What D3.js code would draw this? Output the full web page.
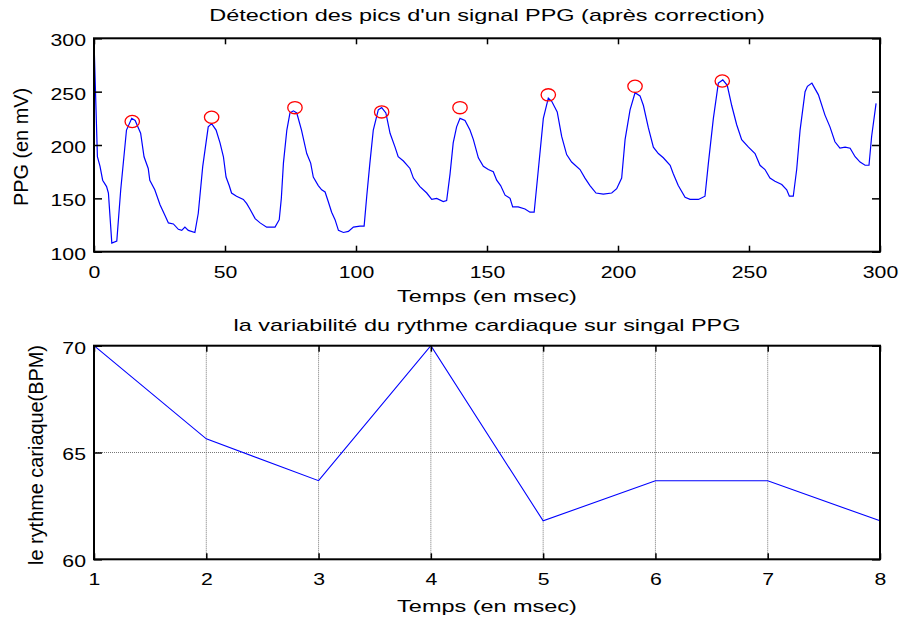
<!DOCTYPE html>
<html>
<head>
<meta charset="utf-8">
<script src="https://cdn.jsdelivr.net/npm/d3@7"></script>
<style>
  body { margin: 0; background: #fff; }
  text { font-family: "Liberation Sans", Arial, Helvetica, sans-serif; fill: #000; }
</style>
</head>
<body>
<svg id="chart" width="902" height="619"></svg>
<script>
// PPG signal after baseline correction (time in samples, amplitude in mV)
const ppgTime = [0, 1.3, 2.3, 3.3, 4.8, 5.5, 6.8, 8.7, 10.2, 12.4, 14.4, 15.7, 17.8, 19.1, 20.7, 21.3, 23.2, 25.2, 27.1, 28.4,
  30.3, 32.2, 33.5, 34.7, 36, 38.5, 39.8, 41.5, 43.6, 44.9, 46.6, 48.1, 49.4, 50.4, 51.6, 52.5, 54.4, 57, 58.3, 59.5,
  61.5, 63.4, 65.9, 69.1, 70.7, 71.5, 72.3, 73.6, 74.8, 76.1, 77.4, 79.2, 81.2, 82.7, 83.7, 85.6, 86.9, 88.2, 89.4, 90.7,
  92, 93.3, 95.2, 97.1, 99, 101.5, 103.1, 104.1, 105.3, 106.6, 108.5, 109.8, 111.4, 113, 114.9, 116.1, 118.1, 120.6, 121.9, 124.4,
  127, 128.9, 130.8, 133.3, 134.6, 135.9, 137.1, 138.4, 139.7, 141.6, 143.5, 144.8, 146.7, 148.6, 150.5, 152.4, 153.7, 155.2, 156.9, 158.8,
  159.8, 161.9, 164.5, 166.4, 168, 169.6, 171.5, 173.4, 174.7, 176.8, 178.5, 180.4, 182.3, 185.5, 187.4, 189.3, 191.6, 194.4, 197.6, 199.5,
  201.4, 202.7, 204.6, 206.5, 208.4, 209.7, 211.6, 213.5, 215.4, 217.3, 219.9, 221.1, 223, 225.6, 227.5, 230.7, 233.2, 234.5, 236.4, 238.3,
  240, 241.7, 243.4, 245.3, 247.2, 249.8, 252.3, 254.2, 256.1, 258, 259.9, 262.5, 264.4, 265.4, 266.9, 268.2, 269.5, 271.4, 272.3, 274,
  276.5, 279, 280.9, 282.8, 284.7, 286.7, 288.6, 290.5, 292.4, 294.3, 295.8, 296.8, 298.5];
const ppgValue = [298, 189, 180, 167, 161, 155, 108, 110, 158, 214, 225, 223, 211, 189, 178, 167, 158, 144, 134, 127,
  126, 121, 120, 123, 120, 118, 136, 180, 217, 220, 214, 202, 189, 170, 162, 155, 152, 149, 145, 140,
  131, 127, 123, 123, 130, 150, 183, 214, 230, 232, 230, 214, 192, 183, 170, 162, 158, 156, 147, 137,
  130, 120, 118, 119, 123, 124, 124, 152, 183, 214, 233, 235, 230, 211, 198, 189, 185, 178, 169, 161,
  155, 149, 150, 147, 148, 173, 202, 217, 225, 223, 214, 205, 188, 180, 177, 175, 167, 162, 153, 150,
  142, 142, 140, 137, 137, 177, 225, 244, 241, 231, 208, 191, 184, 177, 169, 162, 155, 154, 155, 159,
  169, 205, 233, 249, 246, 237, 216, 198, 192, 188, 181, 173, 162, 151, 149, 149, 152, 183, 225, 258,
  261, 256, 237, 219, 205, 198, 192, 181, 177, 169, 166, 163, 158, 152, 152, 177, 214, 250, 255, 258,
  247, 228, 217, 203, 197, 198, 197, 189, 184, 181, 181, 208, 239];

// Detected systolic peaks
const peakTime = [14.6, 44.9, 76.7, 109.8, 139.7, 173.4, 206.5, 239.8];
const peakValue = [222, 226, 235, 231, 235, 247, 255, 260];

// Heart rate per beat (BPM)
const beatIndex = [1, 2, 3, 4, 5, 6, 7, 8];
const heartRate = [70, 65.64, 63.68, 70, 61.8, 63.68, 63.68, 61.8];

// Tick labels
const ppgXTicks = [0, 50, 100, 150, 200, 250, 300];
const ppgYTicks = [100, 150, 200, 250, 300];
const hrXTicks = [1, 2, 3, 4, 5, 6, 7, 8];
const hrYTicks = [60, 65, 70];

const svg = d3.select("#chart");
const FONT = 17;
const TEXT_SX = 1.38;   // horizontal widening of the figure's text
const DIGIT_SX = 1.25;
const ROT_SX = 1.17, ROT_SY = 1.18;

function label(x, y, str, sx) {
  return svg.append("text")
    .attr("transform", `translate(${x},${y}) scale(${sx},1)`)
    .attr("text-anchor", "middle")
    .style("font-size", FONT + "px")
    .text(str);
}
function vlabel(x, y, str) {
  return svg.append("text")
    .attr("transform", `translate(${x},${y}) rotate(-90) scale(${ROT_SX},${ROT_SY})`)
    .attr("text-anchor", "middle")
    .style("font-size", FONT + "px")
    .text(str);
}

function drawAxes(g, x, y, xTicks, yTicks, box) {
  const [x0, x1] = x.range();
  const [yb, yt] = y.range();
  const bottom = g.append("g").attr("transform", `translate(0,${yb})`)
    .call(d3.axisBottom(x).tickValues(xTicks).tickSize(-6).tickPadding(14).tickFormat(d3.format("d")));
  g.append("g").attr("transform", `translate(0,${yt})`)
    .call(d3.axisTop(x).tickValues(xTicks).tickSize(-6).tickFormat(""));
  const left = g.append("g").attr("transform", `translate(${x0},0)`)
    .call(d3.axisLeft(y).tickValues(yTicks).tickSize(-8).tickFormat(d3.format("d")));
  g.append("g").attr("transform", `translate(${x1},0)`)
    .call(d3.axisRight(y).tickValues(yTicks).tickSize(-8).tickFormat(""));
  g.selectAll(".domain").remove();
  g.selectAll(".tick line").attr("stroke", "#000").attr("stroke-width", 1.5);
  bottom.selectAll("text")
    .style("font-size", FONT + "px").attr("font-family", null).attr("fill", "#000")
    .attr("transform", `scale(${DIGIT_SX},1)`);
  left.selectAll("text")
    .style("font-size", FONT + "px").attr("font-family", null).attr("fill", "#000")
    .attr("x", 0).attr("y", 2)
    .attr("transform", `translate(-8,0) scale(${DIGIT_SX},1)`);
  g.append("rect")
    .attr("x", x0).attr("y", yt)
    .attr("width", x1 - x0).attr("height", yb - yt)
    .attr("fill", "none").attr("stroke", "#000").attr("stroke-width", 2);
}

// ---------- Top panel: PPG signal with detected peaks ----------
const xTop = d3.scaleLinear().domain([0, 300]).range([94, 880]);
const yTop = d3.scaleLinear().domain([100, 300]).range([251.7, 38.3]);
const gTop = svg.append("g");

const ppg = ppgTime.map((t, i) => [t, ppgValue[i]]);
gTop.append("path")
  .datum(ppg)
  .attr("fill", "none").attr("stroke", "#0000ff").attr("stroke-width", 1.2)
  .attr("d", d3.line().x(d => xTop(d[0])).y(d => yTop(d[1])));

gTop.selectAll("ellipse.peak")
  .data(peakTime.map((t, i) => [t, peakValue[i]]))
  .join("ellipse")
  .attr("class", "peak")
  .attr("cx", d => xTop(d[0])).attr("cy", d => yTop(d[1]))
  .attr("rx", 7.2).attr("ry", 6.1)
  .attr("fill", "none").attr("stroke", "#ff0000").attr("stroke-width", 1.3);

drawAxes(gTop, xTop, yTop, ppgXTicks, ppgYTicks);

label(487, 21, "Détection des pics d'un signal PPG (après correction)", TEXT_SX);
label(487, 302, "Temps (en msec)", TEXT_SX);
vlabel(27.5, 147, "PPG (en mV)");

// ---------- Bottom panel: heart-rate variability ----------
const xBot = d3.scaleLinear().domain([1, 8]).range([94, 880]);
const yBot = d3.scaleLinear().domain([60, 70]).range([559.3, 345.7]);
const gBot = svg.append("g");

// dotted grid
gBot.selectAll("line.vgrid")
  .data(hrXTicks.filter(v => v > 1 && v < 8))
  .join("line")
  .attr("class", "vgrid")
  .attr("x1", d => xBot(d)).attr("x2", d => xBot(d))
  .attr("y1", yBot(60)).attr("y2", yBot(70))
  .attr("stroke", "#777").attr("stroke-width", 1).attr("stroke-dasharray", "1,1");
gBot.selectAll("line.hgrid")
  .data(hrYTicks.filter(v => v > 60 && v < 70))
  .join("line")
  .attr("class", "hgrid")
  .attr("x1", xBot(1)).attr("x2", xBot(8))
  .attr("y1", d => yBot(d)).attr("y2", d => yBot(d))
  .attr("stroke", "#777").attr("stroke-width", 1).attr("stroke-dasharray", "1,1");

gBot.append("path")
  .datum(beatIndex.map((b, i) => [b, heartRate[i]]))
  .attr("fill", "none").attr("stroke", "#0000ff").attr("stroke-width", 1.1)
  .attr("d", d3.line().x(d => xBot(d[0])).y(d => yBot(d[1])));

drawAxes(gBot, xBot, yBot, hrXTicks, hrYTicks);

label(487, 331, "la variabilité du rythme cardiaque sur singal PPG", TEXT_SX);
label(487, 612, "Temps (en msec)", TEXT_SX);
vlabel(42.5, 455, "le rythme cariaque(BPM)");
</script>
</body>
</html>
